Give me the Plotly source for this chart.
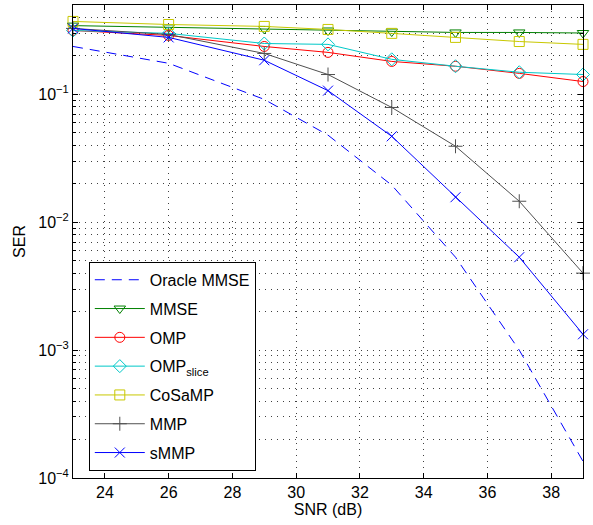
import plotly.graph_objects as go

snr = [23, 26, 29, 31, 33, 35, 37, 39]
oracle_mmse = [0.237, 0.175, 0.0914, 0.048, 0.0195, 0.00533, 0.00100, 0.000135]
mmse = [0.345, 0.334, 0.325, 0.316, 0.310, 0.305, 0.305, 0.302]
omp = [0.316, 0.289, 0.237, 0.213, 0.181, 0.166, 0.146, 0.126]
omp_slice = [0.316, 0.300, 0.250, 0.246, 0.188, 0.166, 0.149, 0.143]
cosamp = [0.372, 0.352, 0.340, 0.322, 0.300, 0.279, 0.259, 0.246]
mmp = [0.328, 0.294, 0.209, 0.143, 0.079, 0.0393, 0.0146, 0.0040]
smmp = [0.328, 0.279, 0.185, 0.107, 0.047, 0.0157, 0.00533, 0.00133]

ytick_vals = [1e-4, 1e-3, 1e-2, 1e-1]
ytick_text = ["10<sup>−4</sup>", "10<sup>−3</sup>", "10<sup>−2</sup>", "10<sup>−1</sup>"]
yminor_vals = [k * 10.0 ** e for e in (-4, -3, -2, -1) for k in range(2, 10) if k * 10.0 ** e <= 0.5]
xtick_vals = [24, 26, 28, 30, 32, 34, 36, 38]

series = [
    ("Oracle MMSE", oracle_mmse, "rgb(0,0,255)", None, "dash"),
    ("MMSE", mmse, "rgb(0,128,0)", "triangle-down-open", "solid"),
    ("OMP", omp, "rgb(255,0,0)", "circle-open", "solid"),
    ("OMP<sub>slice</sub>", omp_slice, "rgb(0,200,200)", "diamond-open", "solid"),
    ("CoSaMP", cosamp, "rgb(200,200,0)", "square-open", "solid"),
    ("MMP", mmp, "rgb(80,80,80)", "cross-thin-open", "solid"),
    ("sMMP", smmp, "rgb(0,0,255)", "x-thin-open", "solid"),
]

FONT = "Liberation Sans, Arial"
GRID = "rgba(0,0,0,0.75)"
GDASH = "1px,5px"

fig = go.Figure()
for i, (name, vals, color, sym, dash) in enumerate(series):
    fig.add_trace(go.Scatter(
        x=snr, y=vals, name=name,
        mode="lines" if sym is None else "lines+markers",
        line=dict(color=color, width=1, dash="10px,7px" if dash == "dash" else dash),
        marker=dict(symbol=sym, size=10, color=color, line=dict(color=color, width=1)) if sym else None,
        legendgroup=f"g{i}", cliponaxis=False,
    ))

axis_common = dict(
    showline=True, linecolor="black", linewidth=1, mirror="ticks",
    ticks="inside", ticklen=5, tickcolor="black",
    showgrid=True, gridcolor=GRID, griddash=GDASH, gridwidth=1,
    zeroline=False, tickfont=dict(family=FONT, size=16, color="black"),
)

fig.update_xaxes(
    range=[23, 39], tickmode="array", tickvals=xtick_vals, **axis_common,
    title=dict(text="SNR (dB)", font=dict(family=FONT, size=16, color="black"), standoff=2),
)
fig.update_yaxes(
    type="log", range=[-4, -0.301], tickmode="array", tickvals=ytick_vals, ticktext=ytick_text, **axis_common,
    minor=dict(tickmode="array", tickvals=yminor_vals, ticks="inside", ticklen=3, tickcolor="black",
               showgrid=True, gridcolor=GRID, griddash=GDASH, gridwidth=1),
    title=dict(text="SER", font=dict(family=FONT, size=16, color="black"), standoff=8),
)

fig.update_layout(
    width=593, height=525,
    margin=dict(l=73, r=10, t=5, b=47),
    plot_bgcolor="white", paper_bgcolor="white",
    legend=dict(
        x=0.031, y=0.457, xanchor="left", yanchor="top",
        bgcolor="white", bordercolor="black", borderwidth=1,
        font=dict(family=FONT, size=16, color="black"),
        traceorder="grouped", tracegroupgap=5, itemwidth=50,
    ),
    showlegend=True,
)

fig.write_html("out.html", config={"displayModeBar": False},
               post_script="document.body.style.margin='0';")
